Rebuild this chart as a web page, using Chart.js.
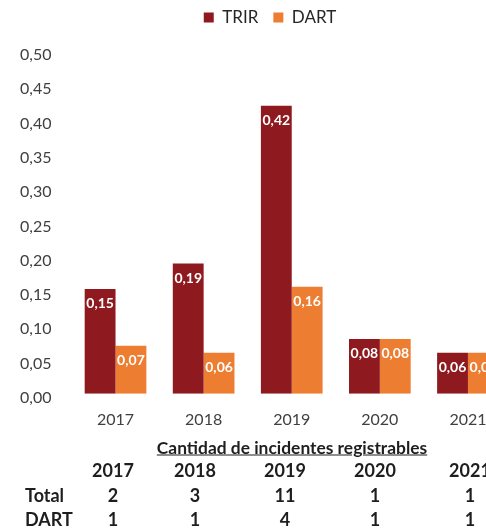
<!DOCTYPE html>
<html>
<head>
<meta charset="utf-8">
<script src="https://cdn.jsdelivr.net/npm/chart.js@4"></script>
<style>
  html, body { margin: 0; padding: 0; background: #fff; overflow: hidden; }
  body { width: 486px; height: 528px; position: relative; font-family: Lato, "Open Sans", sans-serif; }
  #wrap { position: absolute; left: 0; top: 0; width: 540px; height: 447px; }
  #tbl { position: absolute; left: 0; top: 0; width: 540px; height: 528px; color: #1e1e1e; font-weight: bold; }
  #tbl span { position: absolute; transform: translate(-50%, -50%); white-space: nowrap; }
  #tbl span.lbl { transform: translate(0, -50%); }
  #tbl .title { font-size: 17.4px; text-decoration: underline; }
  #tbl .cell { font-size: 18px; }
</style>
</head>
<body>
<div id="wrap"><canvas id="chart"></canvas></div>
<div id="tbl"></div>
<script>
// chart values
const years = ["2017", "2018", "2019", "2020", "2021"];
const trir = [0.153, 0.19, 0.42, 0.08, 0.06];
const dart = [0.07, 0.06, 0.156, 0.08, 0.06];

// table under the chart
const tableTitle = "Cantidad de incidentes registrables";
const rowNames = ["Total", "DART"];
const totalCounts = [2, 3, 11, 1, 1];
const dartCounts = [1, 1, 4, 1, 1];

const fmt = (v) => v.toFixed(2).replace(".", ",");

// white value labels inside the top of each bar
const barLabels = {
  id: "barLabels",
  afterDatasetsDraw(chart) {
    const ctx = chart.ctx;
    ctx.save();
    ctx.fillStyle = "#ffffff";
    ctx.font = "bold 14px Lato";
    ctx.textAlign = "center";
    ctx.textBaseline = "middle";
    chart.data.datasets.forEach((ds, i) => {
      chart.getDatasetMeta(i).data.forEach((bar, j) => {
        ctx.fillText(fmt(ds.data[j]), bar.x, bar.y + 15);
      });
    });
    ctx.restore();
  },
};

// extra space under the legend
const legendGap = {
  id: "legendGap",
  beforeInit(chart) {
    const fit = chart.legend.fit;
    chart.legend.fit = function () {
      fit.bind(chart.legend)();
      this.height += 15;
    };
  },
};

new Chart(document.getElementById("chart"), {
  type: "bar",
  data: {
    labels: years,
    datasets: [
      { label: "TRIR", data: trir, backgroundColor: "#8e191e" },
      { label: "DART", data: dart, backgroundColor: "#ed7d31" },
    ],
  },
  options: {
    responsive: true,
    maintainAspectRatio: false,
    animation: false,
    layout: { padding: { left: 0, right: 0, top: -6, bottom: 2 } },
    datasets: { bar: { categoryPercentage: 0.7, barPercentage: 1.0 } },
    plugins: {
      legend: {
        position: "top",
        labels: {
          boxWidth: 10,
          boxHeight: 10,
          padding: 15,
          color: "#262626",
          font: { family: "Lato", size: 17 },
        },
      },
      tooltip: { enabled: false },
    },
    scales: {
      x: {
        grid: { display: false, drawTicks: false },
        border: { display: false },
        ticks: { color: "#404040", padding: 16, font: { family: "Lato", size: 16 } },
      },
      y: {
        min: 0,
        max: 0.5,
        grid: { display: false, drawTicks: false },
        border: { display: false },
        ticks: {
          stepSize: 0.05,
          padding: 20,
          labelOffset: 4,
          color: "#404040",
          font: { family: "Lato", size: 16 },
          callback: (v) => fmt(v),
        },
      },
      // empty strip on the right so the last group runs past the edge
      yRight: {
        type: "linear",
        position: "right",
        grid: { display: false, drawTicks: false },
        border: { display: false },
        ticks: { display: false },
        afterFit(scale) {
          scale.width = 28;
        },
      },
    },
  },
  plugins: [barLabels, legendGap],
});

// build the count table as positioned text
const tbl = document.getElementById("tbl");
const colX = [113, 195, 285, 375, 470];
function put(text, x, y, cls) {
  const s = document.createElement("span");
  s.className = cls;
  s.textContent = text;
  s.style.left = x + "px";
  s.style.top = y + "px";
  tbl.appendChild(s);
}
put(tableTitle, 292, 447, "title");
years.forEach((y, i) => put(y, colX[i], 470, "cell"));
put(rowNames[0], 25, 495, "cell lbl");
totalCounts.forEach((c, i) => put(String(c), colX[i], 495, "cell"));
put(rowNames[1], 25, 519, "cell lbl");
dartCounts.forEach((c, i) => put(String(c), colX[i], 519, "cell"));
</script>
</body>
</html>
